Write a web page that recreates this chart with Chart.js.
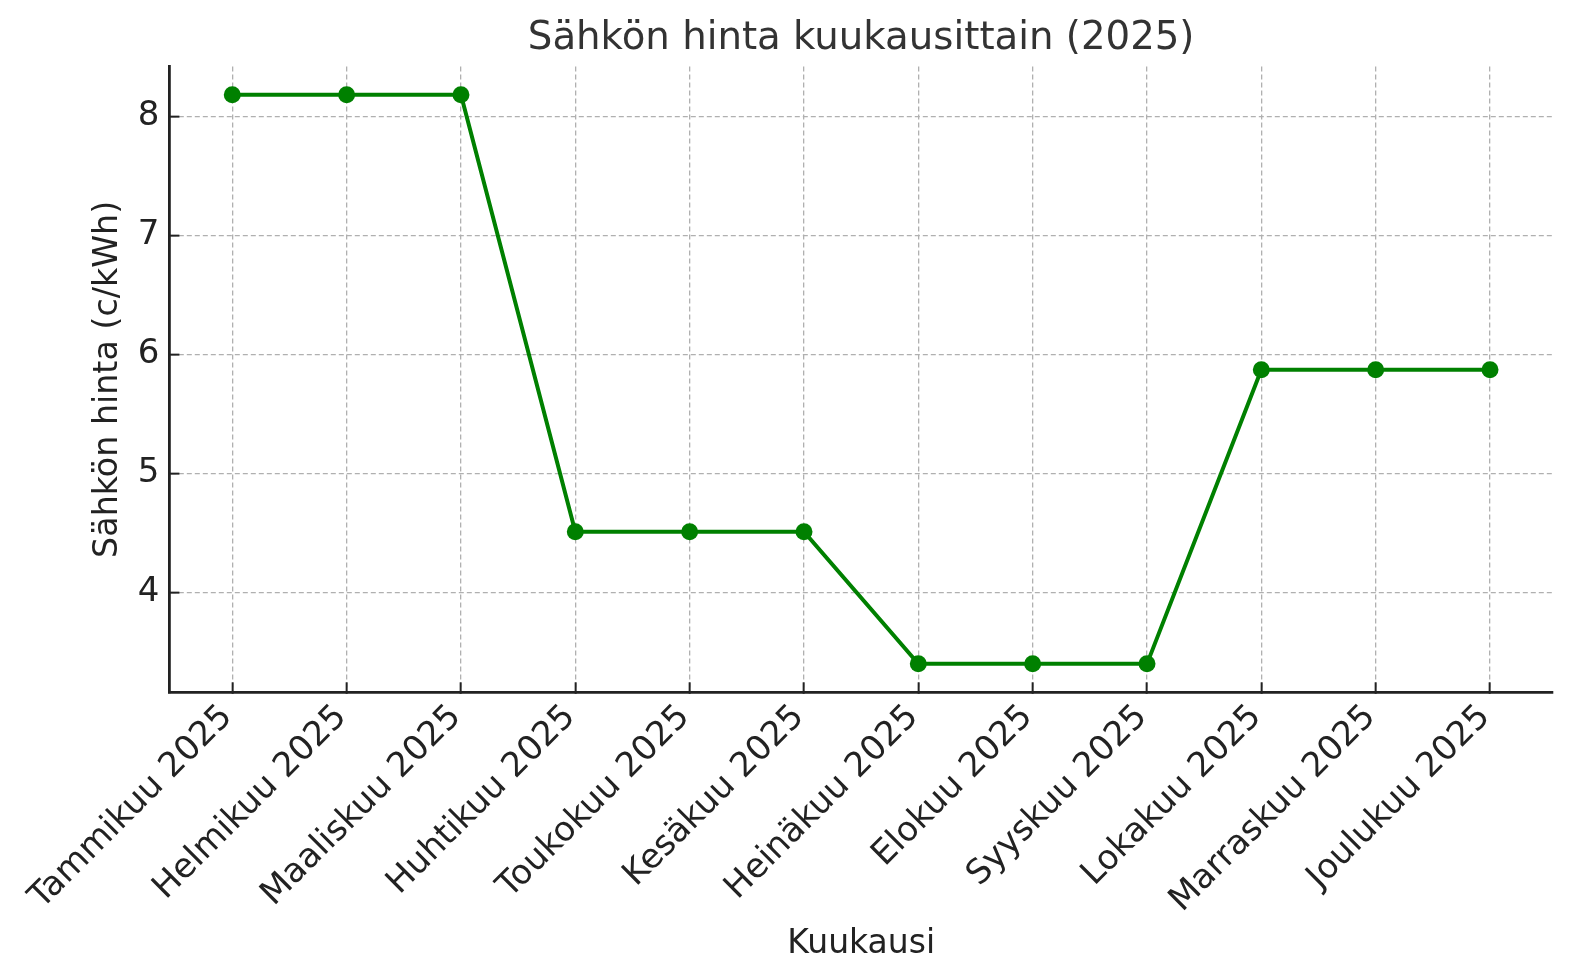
<!DOCTYPE html>
<html>
<head>
<meta charset="utf-8">
<script src="https://cdn.jsdelivr.net/npm/chart.js@4/dist/chart.umd.min.js"></script>
<style>
  html, body { margin: 0; padding: 0; background: #fff; }
  #wrap { width: 1573px; height: 980px; }
</style>
</head>
<body>
<div id="wrap"><canvas id="price-chart" width="1573" height="980"></canvas></div>
<script>
const months = [
  "Tammikuu 2025", "Helmikuu 2025", "Maaliskuu 2025", "Huhtikuu 2025",
  "Toukokuu 2025", "Kesäkuu 2025", "Heinäkuu 2025", "Elokuu 2025",
  "Syyskuu 2025", "Lokakuu 2025", "Marraskuu 2025", "Joulukuu 2025",
];
const prices = [8.18, 8.18, 8.18, 4.51, 4.51, 4.51, 3.40, 3.40, 3.40, 5.87, 5.87, 5.87];
const yTicks = [4, 5, 6, 7, 8];

const chartTitle = "Sähkön hinta kuukausittain (2025)";
const xTitle = "Kuukausi";
const yTitle = "Sähkön hinta (c/kWh)";

const FONT = "'DejaVu Sans', 'Noto Sans', sans-serif";
Chart.defaults.font.family = FONT;
Chart.defaults.color = "#222";

// matplotlib-like 5% margins
const yLo = Math.min(...prices), yHi = Math.max(...prices);
const yPad = (yHi - yLo) * 0.05;
const xPad = (months.length - 1) * 0.05;

// title centred over the axes, not over the whole canvas
const axesTitle = {
  id: "axesTitle",
  afterDraw(chart) {
    const { ctx, chartArea } = chart;
    ctx.save();
    ctx.font = "38.7px " + FONT;
    ctx.fillStyle = "#333";
    ctx.textAlign = "center";
    ctx.textBaseline = "alphabetic";
    ctx.fillText(chartTitle, (chartArea.left + chartArea.right) / 2, 48.5);
    ctx.restore();
  },
};

const gridStyle = {
  color: "#b0b0b0",
  lineWidth: 1.3,
  drawTicks: true,
  tickLength: -10,
  tickColor: "#222",
  tickWidth: 2,
  tickBorderDash: [],
};

new Chart("price-chart", {
  type: "line",
  data: {
    datasets: [
      {
        data: months.map((m, i) => ({ x: i, y: prices[i] })),
        borderColor: "#008000",
        backgroundColor: "#008000",
        borderWidth: 4,
        pointRadius: 8.5,
        pointBorderWidth: 0,
        pointBackgroundColor: "#008000",
        tension: 0,
      },
    ],
  },
  options: {
    responsive: false,
    animation: false,
    devicePixelRatio: 1,
    layout: {
      padding: { top: 66.4, right: 20.1, left: 0, bottom: 0 },
    },
    plugins: {
      legend: { display: false },
      title: { display: false },
      tooltip: { enabled: false },
    },
    scales: {
      x: {
        type: "linear",
        min: -xPad,
        max: months.length - 1 + xPad,
        afterBuildTicks: (s) => {
          s.ticks = months.map((m, i) => ({ value: i }));
        },
        afterFit: (s) => {
          s.height = 980 - 692.3;
        },
        ticks: {
          autoSkip: false,
          minRotation: 45,
          maxRotation: 45,
          padding: 15,
          labelOffset: -5,
          font: { size: 34 },
          color: "#222",
          callback: (v) => months[v],
        },
        grid: gridStyle,
        border: { display: true, color: "#222", width: 2.8, dash: [5, 3] },
        title: {
          display: true,
          text: xTitle,
          font: { size: 33 },
          color: "#222",
          padding: { top: 0, bottom: 16 },
        },
      },
      y: {
        type: "linear",
        min: yLo - yPad,
        max: yHi + yPad,
        afterBuildTicks: (s) => {
          s.ticks = yTicks.map((v) => ({ value: v }));
        },
        afterFit: (s) => {
          s.width = 169.4;
        },
        ticks: {
          padding: 20,
          font: { size: 34 },
          color: "#222",
        },
        grid: gridStyle,
        border: { display: true, color: "#222", width: 2.8, dash: [5, 3] },
        title: {
          display: true,
          text: yTitle,
          font: { size: 33.3 },
          color: "#222",
          padding: { top: 88, bottom: 0 },
        },
      },
    },
  },
  plugins: [axesTitle],
});
</script>
</body>
</html>
